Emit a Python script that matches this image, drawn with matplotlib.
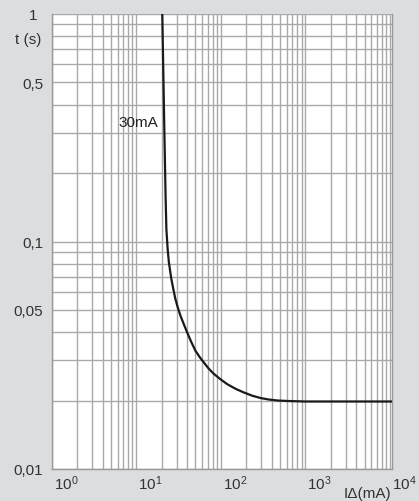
import matplotlib
matplotlib.use('Agg')
import matplotlib.pyplot as plt
from matplotlib.ticker import LogLocator, NullFormatter
from matplotlib.transforms import ScaledTranslation

plt.rcParams['font.family'] = ['Liberation Sans', 'DejaVu Sans']
plt.rcParams['mathtext.fontset'] = 'custom'
plt.rcParams['mathtext.rm'] = 'Liberation Sans'
plt.rcParams['mathtext.it'] = 'Liberation Sans:italic'

# tripping curve
current_ma = [20.3, 20.8, 21.5, 22.2, 22.7, 23.5, 24.3, 25.3, 26.0, 27.5, 29.0,
              31.0, 33.3, 36.5, 39.9, 44.5, 50.1, 56.0, 62.9, 72.0, 82.6, 99.0,
              119, 150, 187, 235, 296, 370, 467, 620, 1000, 11000]
time_s = [1.0, 0.6, 0.303, 0.16, 0.1135, 0.0927, 0.081, 0.0732, 0.0684, 0.0615,
          0.0559, 0.0512, 0.0472, 0.0433, 0.0399, 0.0363, 0.0331, 0.0311,
          0.0294, 0.0276, 0.0262, 0.0248, 0.0236, 0.0225, 0.0217, 0.0210,
          0.0205, 0.0202, 0.0200, 0.0199, 0.0198, 0.0198]

x_ticks = [1, 10, 100, 1000, 10000]
x_labels = ['$10^{0}$', '$10^{1}$', '$10^{2}$', '$10^{3}$', '$10^{4}$']
y_ticks = [0.01, 0.05, 0.1, 0.5, 1]
y_labels = ['0,01', '0,05', '0,1', '0,5', '1']

bg = '#dcdddf'
grid_col = '#a9a9a9'
text_col = '#333333'

fig = plt.figure(figsize=(4.19, 5.02), dpi=100, facecolor=bg)
ax = fig.add_axes([51.7 / 419, 1 - 470 / 502, 340.3 / 419, 455 / 502])
ax.set_facecolor('white')

ax.set_xscale('log')
ax.set_yscale('log')
ax.set_xlim(1, 10 ** 4.024)
ax.set_ylim(0.01, 1)

# grid on every decade and every 2..9 step
ax.xaxis.set_minor_locator(LogLocator(base=10, subs=range(2, 10), numticks=20))
ax.yaxis.set_minor_locator(LogLocator(base=10, subs=range(2, 10), numticks=20))
ax.xaxis.set_minor_formatter(NullFormatter())
ax.yaxis.set_minor_formatter(NullFormatter())
ax.grid(True, which='both', color=grid_col, lw=1.0)
ax.set_axisbelow(True)

ax.plot(current_ma, time_s, color='#1a1a1a', lw=1.6, solid_capstyle='butt',
        solid_joinstyle='round', zorder=3)

ax.set_xticks(x_ticks)
ax.set_xticklabels(x_labels)
ax.set_yticks(y_ticks)
ax.set_yticklabels(y_labels)
ax.tick_params(which='both', length=0, colors=text_col, labelsize=11)
ax.tick_params(axis='x', pad=3)
ax.tick_params(axis='y', pad=6)
for lab in ax.get_xticklabels():
    lab.set_horizontalalignment('left')
    lab.set_transform(lab.get_transform() + ScaledTranslation(2 / 100, 0, fig.dpi_scale_trans))
# the "1" sits a little further left in the original
top_lab = ax.get_yticklabels()[-1]
top_lab.set_transform(top_lab.get_transform() + ScaledTranslation(-6 / 100, 0, fig.dpi_scale_trans))

for s in ax.spines.values():
    s.set_color('#999999')
    s.set_linewidth(1.0)
ax.spines['top'].set_visible(False)

fig.text(158 / 419, 1 - 123 / 502, '30mA', fontsize=11, color='#222222',
         ha='right', va='center')
fig.text(15 / 419, 1 - 40 / 502, 't (s)', fontsize=11, color=text_col,
         ha='left', va='center')
fig.text(344 / 419, 1 - 494 / 502, 'I\u0394(mA)', fontsize=11, color=text_col,
         ha='left', va='center')

fig.savefig('out.png', dpi=100, facecolor=bg)
